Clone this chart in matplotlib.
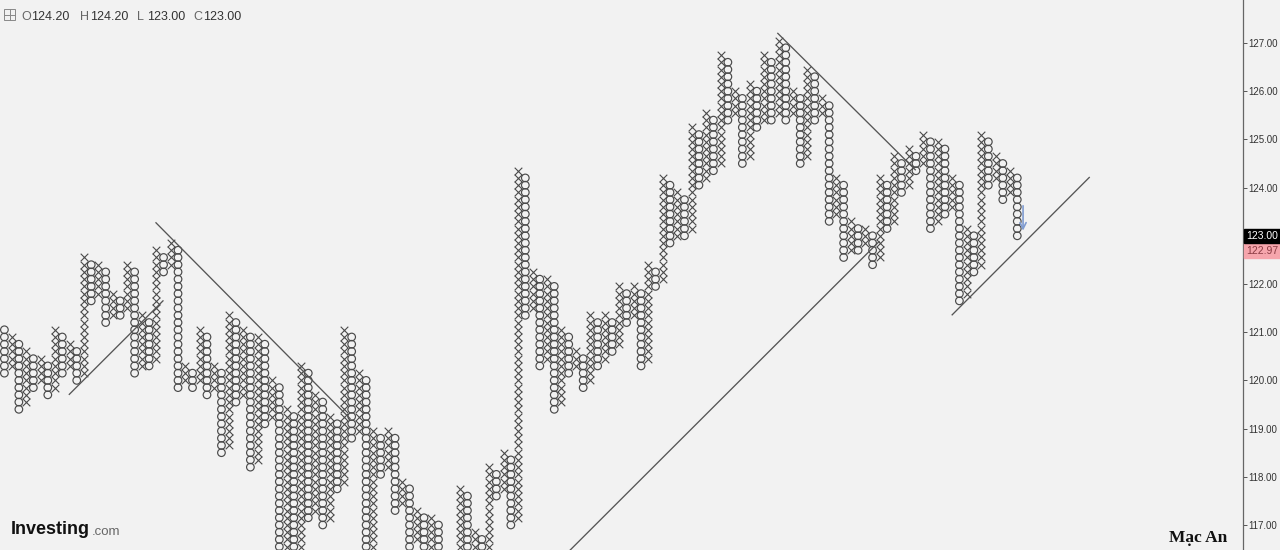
"""Point and figure chart, box size 0.15, with hand drawn trend lines."""
import matplotlib.pyplot as plt
import numpy as np

BOX = 0.15
BASE = 123.00  # last close, column ranges below are counted in boxes from here

# one entry per column, O columns are the even ones and X the odd ones
col_high = [
    -13, -14, -15, -16, -17, -17, -18, -13, -14, -15,
    -16, -3, -4, -4, -5, -8, -9, -4, -5, -11,
    -12, -2, -3, -1, -2, -18, -19, -13, -14, -18,
    -19, -11, -12, -13, -14, -14, -15, -20, -21, -24,
    -25, -18, -19, -22, -23, -25, -26, -13, -14, -19,
    -20, -27, -28, -27, -28, -34, -35, -38, -39, -39,
    -40, -47, -48, -35, -36, -41, -42, -32, -33, -30,
    -31, 9, 8, -5, -6, -6, -7, -13, -14, -16,
    -17, -11, -12, -11, -12, -7, -8, -7, -8, -4,
    -5, 8, 7, 6, 5, 15, 14, 17, 16, 25,
    24, 20, 19, 21, 20, 25, 24, 27, 26, 20,
    19, 23, 22, 19, 18, 8, 7, 2, 1, 1,
    0, 8, 7, 11, 10, 12, 11, 14, 13, 13,
    12, 8, 7, 1, 0, 14, 13, 11, 10, 9,
    8,
]
col_low = [
    -19, -18, -24, -23, -21, -20, -22, -21, -19, -18,
    -20, -19, -9, -8, -12, -11, -11, -10, -19, -18,
    -18, -17, -5, -4, -21, -20, -21, -20, -22, -21,
    -30, -29, -23, -22, -32, -31, -26, -25, -46, -45,
    -46, -45, -39, -38, -40, -39, -35, -34, -28, -27,
    -46, -45, -33, -32, -38, -37, -46, -42, -46, -45,
    -46, -50, -52, -45, -46, -45, -46, -45, -36, -35,
    -40, -39, -11, -10, -18, -17, -24, -23, -19, -18,
    -21, -20, -18, -17, -16, -15, -12, -11, -18, -17,
    -7, -6, -1, 0, 0, 1, 7, 8, 9, 10,
    16, 17, 10, 11, 15, 16, 16, 17, 16, 17,
    10, 11, 16, 17, 2, 3, -3, -2, -2, -1,
    -4, -3, 1, 2, 6, 7, 9, 10, 1, 2,
    3, 4, -9, -8, -5, -4, 7, 8, 5, 6,
    0,
]

price_ticks = [117, 118, 119, 120, 121, 122, 123, 124, 125, 126, 127]

# trend lines as (column, price) end points
trend_lines = [
    [(8.97, 119.71), (21.92, 121.65)],
    [(20.95, 123.27), (47.77, 119.21)],
    [(78.2, 116.48), (120.9, 122.88)],
    [(106.9, 127.2), (125.9, 124.37)],
    [(131.0, 121.36), (149.95, 124.21)],
]
arrow_from = (140.8, 123.68)
arrow_to = (140.8, 123.05)

BG = "#f2f2f2"
INK = "#4a4a4a"
W, H = 1280, 550

plt.rcParams["font.family"] = ["Liberation Sans", "DejaVu Sans"]

fig = plt.figure(figsize=(W / 100, H / 100), dpi=100, facecolor=BG)
ax = fig.add_axes([0, 0, 1243 / W, 1], facecolor=BG)


def px(x, y):
    return x / W, 1 - y / H


o_x, o_y, x_x, x_y = [], [], [], []
for i, (hi, lo) in enumerate(zip(col_high, col_low)):
    boxes = BASE + BOX * np.arange(lo, hi + 1)
    if i % 2 == 0:
        o_x += [i] * len(boxes)
        o_y += list(boxes)
    else:
        x_x += [i] * len(boxes)
        x_y += list(boxes)

ax.scatter(o_x, o_y, s=30, marker="o", facecolors="none", edgecolors=INK, linewidths=0.85, zorder=2)
ax.scatter(x_x, x_y, s=30, marker="x", color=INK, linewidths=0.8, zorder=2)

for line in trend_lines:
    xs, ys = zip(*line)
    ax.plot(xs, ys, color="#555555", lw=0.95, zorder=3)

ax.annotate("", xy=arrow_to, xytext=arrow_from,
            arrowprops=dict(arrowstyle="->", color="#7f9bd0", lw=1.2, mutation_scale=11), zorder=4)

ax.set_xlim(-0.608, 171.2)
ax.set_ylim(116.481, 127.892)
ax.set_xticks([])
ax.yaxis.tick_right()
ax.set_yticks(price_ticks)
# the 123.00 label is the black tag drawn further down
ax.set_yticklabels(["" if p == 123 else f"{p:.2f}" for p in price_ticks])
ax.tick_params(axis="y", length=3, width=0.7, color="#555555", labelsize=7, labelcolor="#333333", pad=1)
for side in ["top", "left", "bottom"]:
    ax.spines[side].set_visible(False)
ax.spines["right"].set_color("#666666")
ax.spines["right"].set_linewidth(0.9)

# price tags on the axis
fig.patches.append(plt.Rectangle(px(1244, 258), 36 / W, 15 / H, transform=fig.transFigure, color="#f6a5ac", zorder=5))
fig.patches.append(plt.Rectangle(px(1244, 243), 36 / W, 14.5 / H, transform=fig.transFigure, color="black", zorder=6))
fig.text(*px(1278, 236), "123.00", color="white", fontsize=7.5, ha="right", va="center", zorder=7)
fig.text(*px(1278, 251), "122.97", color="#8a3a42", fontsize=7.5, ha="right", va="center", zorder=7)

# header with the OHLC values
fig.patches.append(plt.Rectangle(px(4, 20), 11 / W, 11 / H, transform=fig.transFigure,
                                 facecolor="none", edgecolor="#888888", lw=0.7))
fig.add_artist(plt.Line2D([4 / W, 15 / W], [1 - 14.5 / H] * 2, color="#888888", lw=0.7))
fig.add_artist(plt.Line2D([9.5 / W] * 2, [1 - 9 / H, 1 - 20 / H], color="#888888", lw=0.7))
for x, letter, value in [(21, "O", "124.20"), (80, "H", "124.20"), (137, "L", "123.00"), (193, "C", "123.00")]:
    fig.text(*px(x, 16.5), letter, color="#666666", fontsize=9, va="center")
    fig.text(*px(x + 10.5, 16.5), value, color="#333333", fontsize=9, va="center")

# logo and signature
fig.text(*px(11, 530), "Investing", weight="bold", color="#111111", fontsize=13, va="center")
fig.text(*px(92, 532), ".com", color="#666666", fontsize=9.5, va="center")
fig.text(*px(1169, 538), "Mạc An", family="Liberation Serif", weight="bold", color="#111111",
         fontsize=12.5, va="center")

fig.savefig("out.png", dpi=100, facecolor=BG)
